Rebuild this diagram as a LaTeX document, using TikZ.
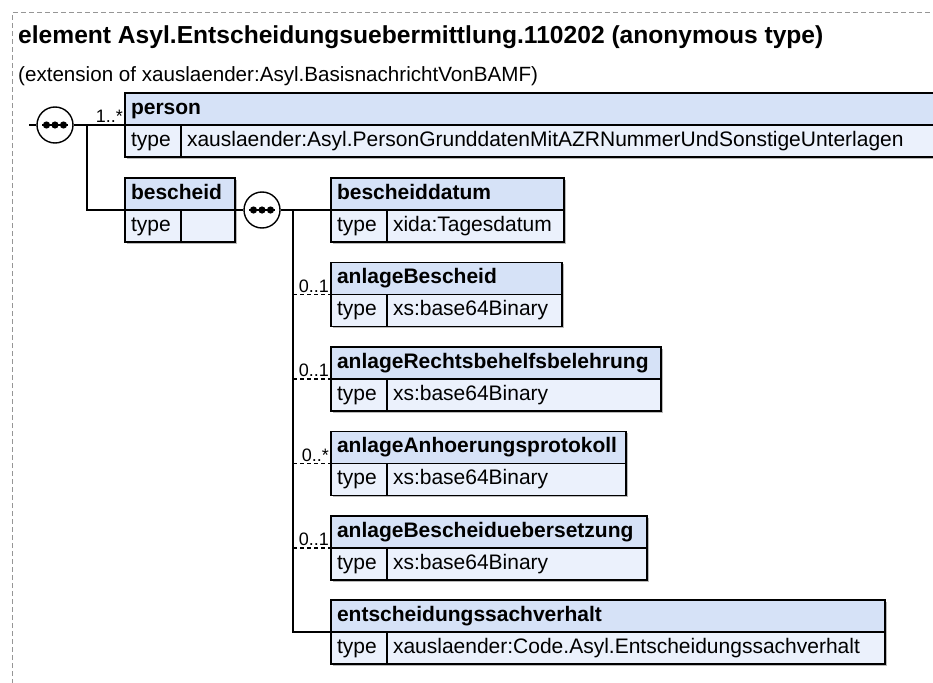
\documentclass[tikz,border=0pt]{standalone}
\usepackage{fontspec}
\setmainfont{Liberation Sans}
\usepackage{xcolor}
\usepackage{tikz}
\usetikzlibrary{positioning, shadows}

\definecolor{hdrblue}{RGB}{214,226,247}
\definecolor{rowblue}{RGB}{235,241,252}
\definecolor{framegray}{RGB}{150,150,150}
\hyphenpenalty=10000
\exhyphenpenalty=10000

\begin{document}
\begin{tikzpicture}[
    x=1pt, y=-1pt,
    font=\fontsize{21}{24}\selectfont,
    cell/.style={rectangle, draw=black, line width=1.3pt, outer sep=0pt, inner xsep=6pt, inner ysep=0pt, minimum height=32pt, text height=15pt, text depth=4.5pt, align=left, drop shadow={shadow xshift=1.5pt, shadow yshift=-1.5pt, fill=black!45, opacity=0.6}},
    hdrcell/.style={cell, fill=hdrblue, font=\fontsize{21}{24}\selectfont\bfseries, anchor=north west},
    typecell/.style={cell, fill=rowblue, text width=44pt},
    valcell/.style={cell, fill=rowblue},
    seq/.style={circle, draw=black, line width=1.4pt, fill=white, minimum size=36pt, inner sep=0pt},
    conn/.style={line width=1.4pt},
    optconn/.style={conn, dash pattern=on 4pt off 3pt},
    mult/.style={font=\fontsize{18}{20}\selectfont, inner sep=1.5pt, above left},
  ]
  \clip (0,0) rectangle (933,682);

  % outer frame
  \draw[framegray, line width=1pt, dash pattern=on 5pt off 3pt] (12,700) -- (12,13) -- (950,13);

  \node[anchor=base west, inner sep=0pt, font=\fontsize{24.6}{28}\selectfont\bfseries] (title) at (18,44) {element Asyl.Entscheidungsuebermittlung.110202 (anonymous type)};
  \node[anchor=base west, inner sep=0pt, font=\fontsize{20.6}{24}\selectfont] (ext) at (18,82) {(extension of xauslaender:Asyl.BasisnachrichtVonBAMF)};

  \node[seq] (seq1) at (55,125) {};
  \node[seq] (seq2) at (262,210) {};
  % sequence symbol
  \foreach \s in {seq1, seq2} {
    \draw[line width=1.5pt] ([xshift=-13pt]\s.center) -- ([xshift=13pt]\s.center);
    \foreach \dx in {-8.5,0,8.5}
      \fill ([xshift=\dx pt]\s.center) circle (3.6pt);
  }

  \node[hdrcell, text width=823pt] (person) at (125,93) {person};
  \node[typecell, below right=0pt and 0pt of person.south west] (personT) {type};
  \node[valcell, right=0pt of personT, text width=767pt] (personV) {xauslaender:Asyl.PersonGrunddatenMitAZRNummerUndSonstigeUnterlagen};

  \node[hdrcell, text width=98pt] (bescheid) at (125,178) {bescheid};
  \node[typecell, below right=0pt and 0pt of bescheid.south west] (bescheidT) {type};
  \node[valcell, right=0pt of bescheidT, text width=42pt] (bescheidV) {};

  \node[hdrcell, text width=221pt] (datum) at (331,178) {bescheiddatum};
  \node[typecell, below right=0pt and 0pt of datum.south west] (datumT) {type};
  \node[valcell, right=0pt of datumT, text width=165pt] (datumV) {xida:Tagesdatum};

  \node[hdrcell, text width=219pt] (anlBescheid) at (331,262.5) {anlageBescheid};
  \node[typecell, below right=0pt and 0pt of anlBescheid.south west] (anlBescheidT) {type};
  \node[valcell, right=0pt of anlBescheidT, text width=163pt] (anlBescheidV) {xs:base64Binary};

  \node[hdrcell, text width=318pt] (anlRechts) at (331,347) {anlageRechtsbehelfsbelehrung};
  \node[typecell, below right=0pt and 0pt of anlRechts.south west] (anlRechtsT) {type};
  \node[valcell, right=0pt of anlRechtsT, text width=262pt] (anlRechtsV) {xs:base64Binary};

  \node[hdrcell, text width=283pt] (anlAnhoer) at (331,431.5) {anlageAnhoerungsprotokoll};
  \node[typecell, below right=0pt and 0pt of anlAnhoer.south west] (anlAnhoerT) {type};
  \node[valcell, right=0pt of anlAnhoerT, text width=227pt] (anlAnhoerV) {xs:base64Binary};

  \node[hdrcell, text width=304pt] (anlUebers) at (331,516) {anlageBescheiduebersetzung};
  \node[typecell, below right=0pt and 0pt of anlUebers.south west] (anlUebersT) {type};
  \node[valcell, right=0pt of anlUebersT, text width=248pt] (anlUebersV) {xs:base64Binary};

  \node[hdrcell, text width=542pt] (sachverhalt) at (331,600) {entscheidungssachverhalt};
  \node[typecell, below right=0pt and 0pt of sachverhalt.south west] (sachverhaltT) {type};
  \node[valcell, right=0pt of sachverhaltT, text width=486pt] (sachverhaltV) {xauslaender:Code.Asyl.Entscheidungssachverhalt};

  \coordinate (stub) at (29,125);
  \coordinate (fork) at (87,125);
  \coordinate (spine) at (293,210);

  \draw[conn] (stub) -- (seq1);
  \draw[conn] (seq1) -- node[mult, pos=1] {1..*} (person.south west);
  \draw[conn] (fork) |- (bescheid.south west);
  \draw[conn] (bescheid.south east) -- (seq2);
  \draw[conn] (seq2) -- (datum.south west);
  \draw[conn] (spine) |- (sachverhalt.south west);
  \draw[optconn] (spine |- anlBescheid.south west) -- node[mult, pos=1] {0..1} (anlBescheid.south west);
  \draw[optconn] (spine |- anlRechts.south west) -- node[mult, pos=1] {0..1} (anlRechts.south west);
  \draw[optconn] (spine |- anlAnhoer.south west) -- node[mult, pos=1] {0..*} (anlAnhoer.south west);
  \draw[optconn] (spine |- anlUebers.south west) -- node[mult, pos=1] {0..1} (anlUebers.south west);

\end{tikzpicture}
\end{document}
